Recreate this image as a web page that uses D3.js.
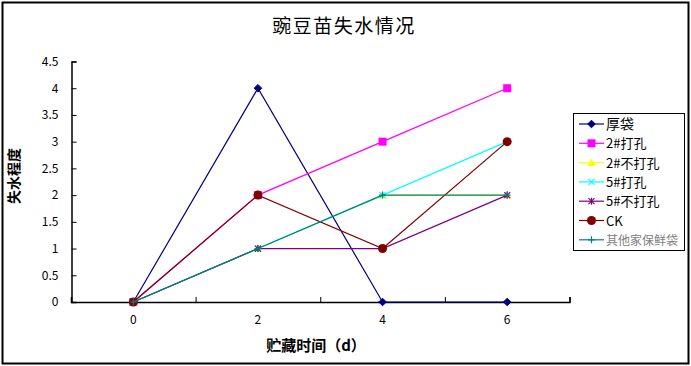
<!DOCTYPE html>
<html><head><meta charset="utf-8">
<script src="https://cdn.jsdelivr.net/npm/d3@7"></script>
<style>
body{margin:0;background:#fff;}
text{font-family:"Noto Sans CJK SC","DejaVu Sans",sans-serif;}
</style></head>
<body><svg id="c" width="691" height="366"></svg>
<script>
const days = [0, 2, 4, 6];
const seriesNames = ["厚袋", "2#打孔", "2#不打孔", "5#打孔", "5#不打孔", "CK", "其他家保鲜袋"];
const houdai = [0, 4, 0, 0];
const h2da = [0, 2, 3, 4];
const h2buda = [0, 1, 2, 2];
const h5da = [0, 1, 2, 3];
const h5buda = [0, 1, 1, 2];
const ck = [0, 2, 1, 3];
const other = [0, 1, 2, 2];
const yTicks = [0, 0.5, 1, 1.5, 2, 2.5, 3, 3.5, 4, 4.5];
const xTickLabels = [0, 2, 4, 6];

const values = [houdai, h2da, h2buda, h5da, h5buda, ck, other];
const colors = ["#000080", "#FF00FF", "#FFFF00", "#00FFFF", "#800080", "#800000", "#008080"];
const markers = ["diamond", "square", "triangle", "x", "star", "circle", "plus"];

const svg = d3.select("#c");
svg.append("rect").attr("x", 2.5).attr("y", 2.5).attr("width", 686).attr("height", 361)
  .attr("fill", "#fff").attr("stroke", "#000").attr("stroke-width", 2);

const x = d3.scaleLinear().domain([-1, 7]).range([71, 569.5]);
const y = d3.scaleLinear().domain([0, 4.5]).range([302, 61.5]);

// axes
const xAxis = d3.axisBottom(x).tickValues([-1, 1, 3, 5, 7]).tickSize(-5).tickFormat("");
svg.append("g").attr("transform", "translate(0,302)").call(xAxis)
  .call(g => g.select(".domain").attr("stroke", "#000").attr("stroke-width", 1.5));
svg.append("g").selectAll("text").data(xTickLabels).join("text")
  .attr("x", d => x(d)).attr("y", 324).attr("text-anchor", "middle")
  .attr("font-size", 12).text(d => d);

const yAxis = d3.axisLeft(y).tickValues(yTicks).tickSize(-5).tickPadding(13).tickFormat(d => d);
svg.append("g").attr("transform", "translate(71.5,0)").call(yAxis)
  .call(g => g.select(".domain").attr("stroke", "#000").attr("stroke-width", 1.5))
  .call(g => g.selectAll("text").attr("font-size", 12).attr("fill", "#000")
        .attr("font-family", "\"Noto Sans CJK SC\",sans-serif"));

// titles
svg.append("text").attr("x", 344).attr("y", 33).attr("text-anchor", "middle")
  .attr("font-size", 19).attr("letter-spacing", 1.5).text("豌豆苗失水情况");
svg.append("text").attr("x", 316).attr("y", 351).attr("text-anchor", "middle")
  .attr("font-size", 15).attr("font-weight", "bold").text("贮藏时间（d）");
svg.append("text").attr("transform", "translate(19,176) rotate(-90)").attr("text-anchor", "middle")
  .attr("font-size", 14).attr("font-weight", "bold").text("失水程度");

function drawMarker(g, type, color, cx, cy) {
  const s = 3.8;
  if (type === "diamond") {
    g.append("path").attr("d", `M${cx},${cy-s}L${cx+s},${cy}L${cx},${cy+s}L${cx-s},${cy}Z`).attr("fill", color).attr("stroke", color);
  } else if (type === "square") {
    g.append("rect").attr("x", cx-4).attr("y", cy-4).attr("width", 8).attr("height", 8).attr("fill", color);
  } else if (type === "triangle") {
    g.append("path").attr("d", `M${cx},${cy-4}L${cx+4},${cy+3.5}L${cx-4},${cy+3.5}Z`).attr("fill", color);
  } else if (type === "x") {
    g.append("path").attr("d", `M${cx-3},${cy-3}L${cx+3},${cy+3}M${cx-3},${cy+3}L${cx+3},${cy-3}`).attr("stroke", color).attr("stroke-width", 1.2);
  } else if (type === "star") {
    g.append("path").attr("d", `M${cx-3},${cy-3}L${cx+3},${cy+3}M${cx-3},${cy+3}L${cx+3},${cy-3}M${cx},${cy-3.5}L${cx},${cy+3.5}`).attr("stroke", color).attr("stroke-width", 1.2);
  } else if (type === "circle") {
    g.append("circle").attr("cx", cx).attr("cy", cy).attr("r", 4.5).attr("fill", color);
  } else if (type === "plus") {
    g.append("path").attr("d", `M${cx-3.5},${cy}L${cx+3.5},${cy}M${cx},${cy-3.5}L${cx},${cy+3.5}`).attr("stroke", color).attr("stroke-width", 1.2);
  }
}

const line = d3.line().x((d, i) => x(days[i])).y(d => y(d));
values.forEach((vals, k) => {
  const g = svg.append("g");
  g.append("path").attr("d", line(vals)).attr("fill", "none").attr("stroke", colors[k]).attr("stroke-width", 1.2);
  vals.forEach((v, i) => drawMarker(g, markers[k], colors[k], x(days[i]), y(v)));
});

// legend
const lg = svg.append("g");
lg.append("rect").attr("x", 573.5).attr("y", 113.5).attr("width", 111).attr("height", 137)
  .attr("fill", "#fff").attr("stroke", "#000").attr("stroke-width", 1);
seriesNames.forEach((name, k) => {
  const ly = 124 + k * 19.3;
  lg.append("line").attr("x1", 579).attr("x2", 604).attr("y1", ly).attr("y2", ly)
    .attr("stroke", colors[k]).attr("stroke-width", 1.2);
  drawMarker(lg, markers[k], colors[k], 591.5, ly);
  lg.append("text").attr("x", 606).attr("y", ly + 5)
    .attr("font-size", k === 0 ? 14 : (k === 6 ? 12 : 13))
    .attr("fill", k === 6 ? "#808080" : "#000").text(name);
});
</script></body></html>
